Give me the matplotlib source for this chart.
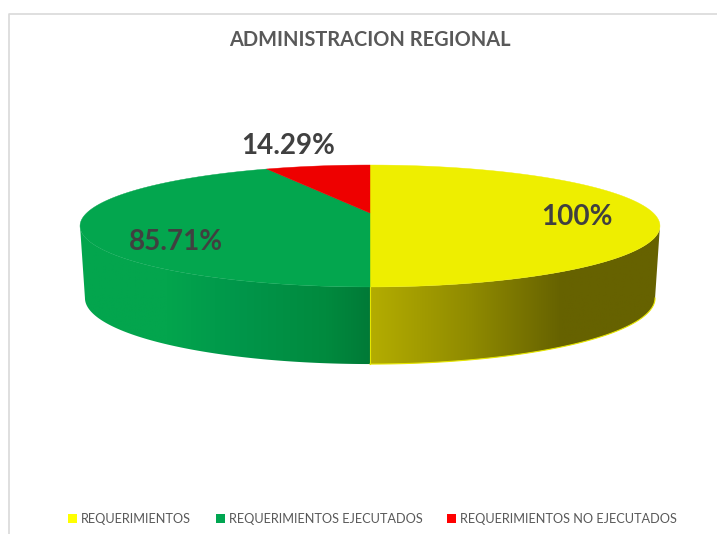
import numpy as np
import matplotlib
matplotlib.use('Agg')
import matplotlib.pyplot as plt
from matplotlib.colors import LinearSegmentedColormap
from matplotlib.patches import Polygon, Rectangle

categorias = ['REQUERIMIENTOS', 'REQUERIMIENTOS EJECUTADOS', 'REQUERIMIENTOS NO EJECUTADOS']
valores = [100, 85.71, 14.29]
etiquetas = ['100%', '85.71%', '14.29%']
colores = ['#eeee00', '#03a64e', '#ee0000']

plt.rcParams['font.family'] = ['Lato', 'DejaVu Sans']

fig = plt.figure(figsize=(7.17, 5.34), dpi=100)
ax = fig.add_axes([0, 0, 1, 1])
ax.axis('off')

# marco del grafico
ax.plot([8.5, 8.5, 717], [534, 13.5, 13.5], color='#d9d9d9', lw=1.2)

persp = 0.213


def borde(t, cy, rx, ry):
    # circulo en perspectiva, t en grados horario desde arriba
    t = np.radians(t)
    u, v = np.sin(t), np.cos(t)
    w = 1 + persp * v
    return 370 + rx * u / w, cy - ry * v / w


# angulos de cada rebanada a partir de los valores
total = sum(valores)
inicio = 0
angulos = []
for v in valores:
    angulos.append((inicio, inicio + v / total * 360))
    inicio += v / total * 360

# cara lateral, solo lo visible (entre los extremos de la elipse)
cy_top, rx_top, ry_top = 213, 283.3, 58.2
cy_bot, rx_bot, ry_bot = 284, 278.5, 63
t_ext = np.degrees(np.arccos(-persp))
lados = [
    (angulos[0], ['#b4ad00', '#8f8a00', '#666200', '#666200'], [0, 0.35, 0.66, 1], 370, 660),
    (angulos[1], ['#03a54d', '#03a54d', '#00964a', '#008a3e', '#007a37'], [0, 0.3, 0.55, 0.85, 1], 80, 370),
]
for (ini, fin), cols, pos, x0, x1 in lados:
    t = np.linspace(max(ini, t_ext), min(fin, 360 - t_ext), 120)
    xa, ya = borde(t, cy_top, rx_top, ry_top)
    xb, yb = borde(t, cy_bot, rx_bot, ry_bot)
    pts = np.column_stack([np.r_[xa, xb[::-1]], np.r_[ya, yb[::-1]]])
    poly = Polygon(pts, closed=True, fc='none', ec='none')
    ax.add_patch(poly)
    cmap = LinearSegmentedColormap.from_list('lado', list(zip(pos, cols)))
    im = ax.imshow(np.linspace(0, 1, 256).reshape(1, -1),
                   extent=[x0, x1, 370, 220], cmap=cmap, aspect='auto', zorder=2)
    im.set_clip_path(poly)

# filo amarillo de la cara lateral derecha
t = np.linspace(t_ext, 180, 100)
xb, yb = borde(t, cy_bot, rx_bot, ry_bot)
ax.plot(xb, yb, color='#e6e600', lw=0.8, zorder=3)
xs, ys = borde(np.array([180.0]), cy_top, rx_top, ry_top)
xe, ye = borde(np.array([180.0]), cy_bot, rx_bot, ry_bot)
ax.plot([xs[0], xe[0]], [ys[0], ye[0]], color='#e6e600', lw=0.8, zorder=3)

# cara superior
for (ini, fin), c in zip(angulos, colores):
    t = np.linspace(ini, fin, 240)
    x, y = borde(t, cy_top, rx_top, ry_top)
    pts = np.column_stack([np.r_[370, x], np.r_[cy_top, y]])
    ax.add_patch(Polygon(pts, closed=True, fc=c, ec=c, lw=0.3, zorder=4))

# etiquetas de datos
pos_etq = [(577, 217), (176, 242), (288, 146)]
for txt, (x, y) in zip(etiquetas, pos_etq):
    ax.text(x, y, txt, fontsize=20, fontweight='bold', color='#404040', ha='center', va='center', zorder=5)

ax.text(370, 40, 'ADMINISTRACION REGIONAL', fontsize=14.4, fontweight='bold', color='#595959',
        ha='center', va='center')

# leyenda
pos_cuadro = [68, 216, 447]
for cat, c, x in zip(categorias, ['#ffff00', '#00a651', '#ff0000'], pos_cuadro):
    ax.add_patch(Rectangle((x, 513.5), 9, 9, fc=c, ec='none'))
    ax.text(x + 13, 519, cat, fontsize=9.2, color='#595959', ha='left', va='center')

ax.set_xlim(0, 717)
ax.set_ylim(534, 0)
fig.savefig('out.png', dpi=100, facecolor='white')
